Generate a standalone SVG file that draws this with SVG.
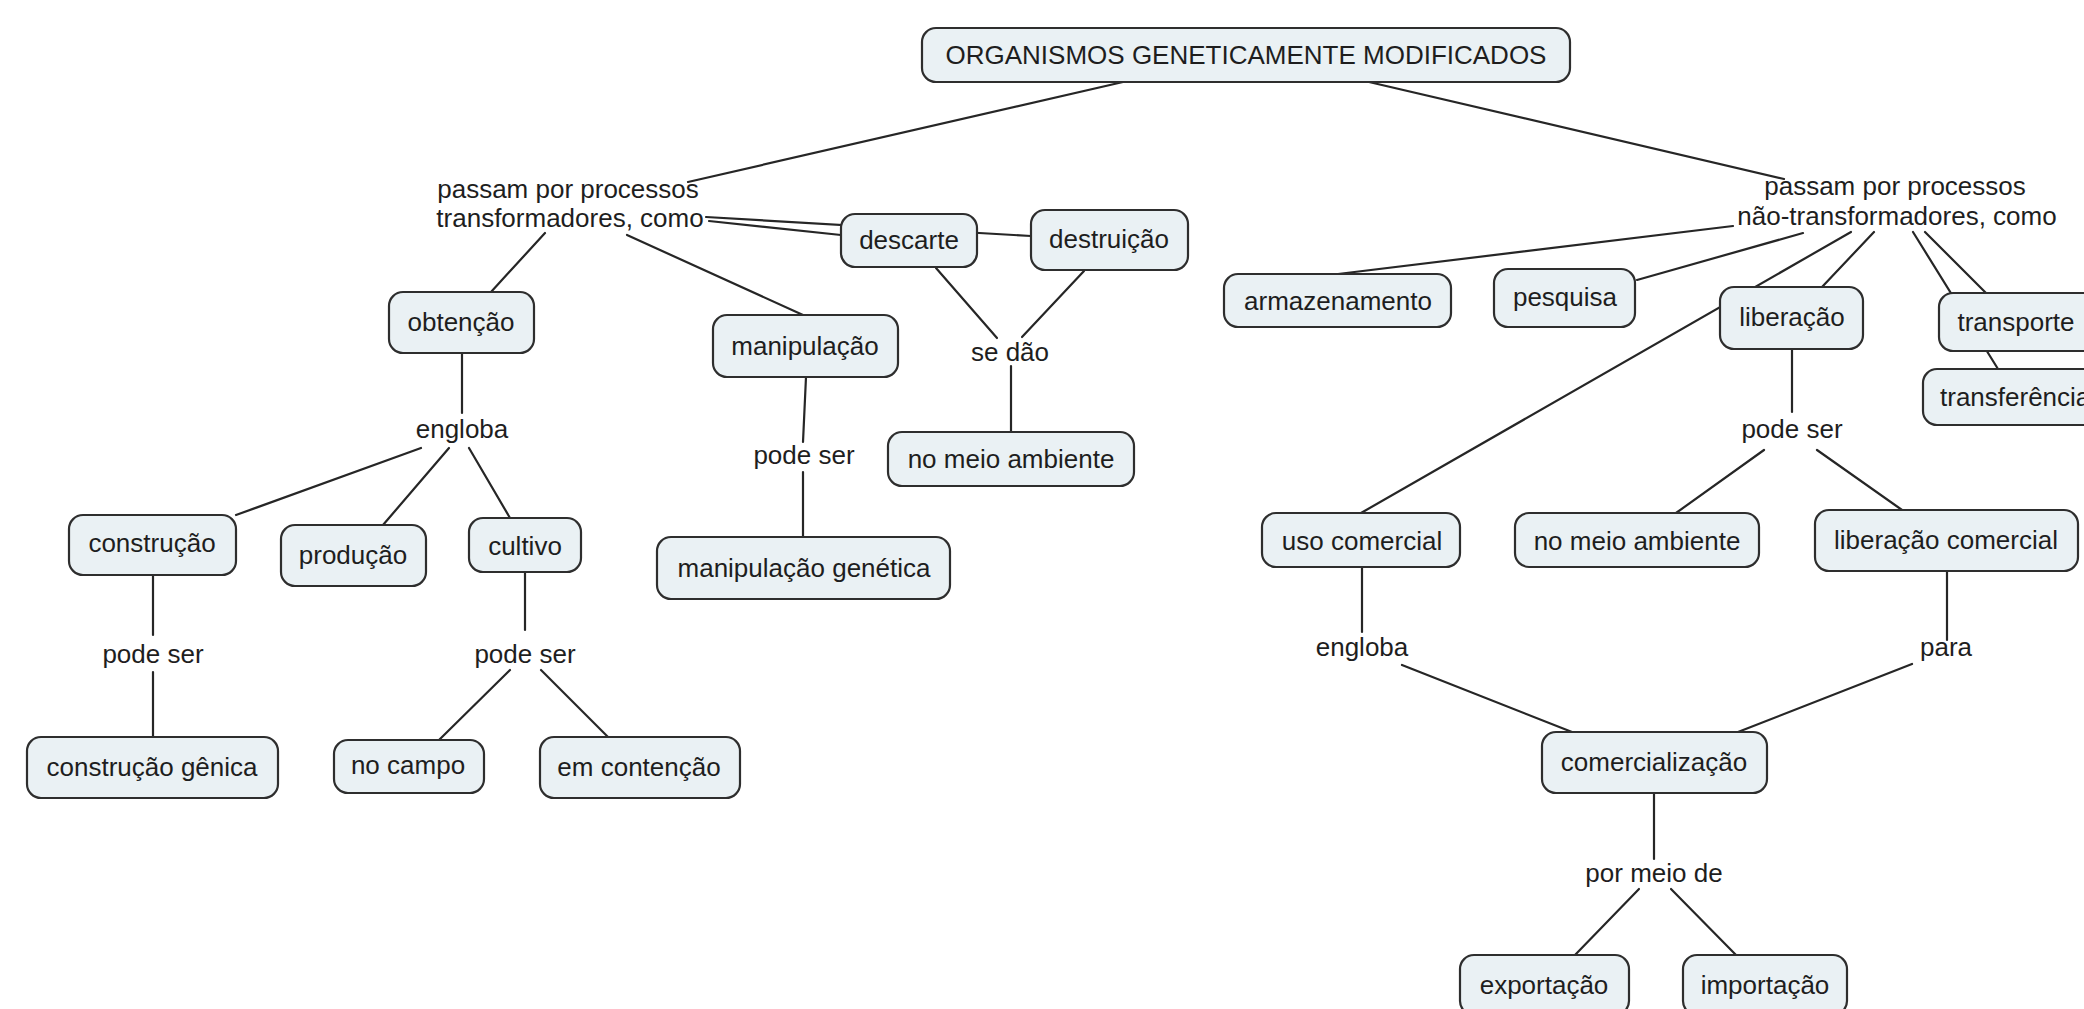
<svg xmlns="http://www.w3.org/2000/svg" width="2084" height="1009" viewBox="0 0 2084 1009">
<style>
.n rect{fill:#eaf1f4;stroke:#2e2e2e;stroke-width:2.2}
text{font-family:"Liberation Sans",Arial,sans-serif;font-size:26px;fill:#1e1e1e;text-anchor:middle}
.c line{stroke:#262626;stroke-width:2.2;stroke-linecap:round}
</style>
<rect width="2084" height="1009" fill="#ffffff"/>
<g class="c" id="connectors">
<line x1="1123" y1="82" x2="688" y2="182"/>
<line x1="1369" y1="82" x2="1784" y2="179"/>
<line x1="706" y1="217" x2="1031" y2="236"/>
<line x1="709" y1="221" x2="841" y2="235"/>
<line x1="545" y1="233" x2="491" y2="292"/>
<line x1="627" y1="235" x2="803" y2="315"/>
<line x1="936" y1="268" x2="997" y2="338"/>
<line x1="1084" y1="271" x2="1022" y2="337"/>
<line x1="1011" y1="366" x2="1011" y2="432"/>
<line x1="462" y1="353" x2="462" y2="413"/>
<line x1="421" y1="448" x2="236" y2="515"/>
<line x1="449" y1="448" x2="383" y2="525"/>
<line x1="469" y1="448" x2="510" y2="518"/>
<line x1="806" y1="377" x2="803" y2="442"/>
<line x1="803" y1="472" x2="803" y2="537"/>
<line x1="153" y1="575" x2="153" y2="635"/>
<line x1="153" y1="672" x2="153" y2="737"/>
<line x1="525" y1="572" x2="525" y2="630"/>
<line x1="510" y1="670" x2="439" y2="740"/>
<line x1="541" y1="670" x2="608" y2="737"/>
<line x1="1733" y1="226" x2="1338" y2="274"/>
<line x1="1803" y1="233" x2="1637" y2="280"/>
<line x1="1851" y1="232" x2="1361" y2="513"/>
<line x1="1874" y1="232" x2="1822" y2="287"/>
<line x1="1913" y1="232" x2="1998" y2="369"/>
<line x1="1925" y1="232" x2="1986" y2="293"/>
<line x1="1792" y1="349" x2="1792" y2="412"/>
<line x1="1764" y1="450" x2="1676" y2="513"/>
<line x1="1817" y1="450" x2="1902" y2="510"/>
<line x1="1362" y1="567" x2="1362" y2="632"/>
<line x1="1402" y1="665" x2="1572" y2="732"/>
<line x1="1947" y1="571" x2="1947" y2="640"/>
<line x1="1912" y1="664" x2="1738" y2="732"/>
<line x1="1654" y1="793" x2="1654" y2="859"/>
<line x1="1639" y1="889" x2="1575" y2="955"/>
<line x1="1671" y1="889" x2="1736" y2="955"/>
</g>
<g class="n" id="n-root"><rect x="922" y="28" width="648" height="54" rx="14"/><text x="1246" y="64">ORGANISMOS GENETICAMENTE MODIFICADOS</text></g>
<g id="l-transf"><text x="568" y="198">passam por processos</text><text x="570" y="227">transformadores, como</text></g>
<g id="l-naotransf"><text x="1895" y="195">passam por processos</text><text x="1897" y="225">não-transformadores, como</text></g>
<g class="n" id="n-descarte"><rect x="841" y="214" width="136" height="53" rx="14"/><text x="909" y="249">descarte</text></g>
<g class="n" id="n-destruicao"><rect x="1031" y="210" width="157" height="60" rx="14"/><text x="1109" y="248">destruição</text></g>
<g class="n" id="n-obtencao"><rect x="389" y="292" width="145" height="61" rx="14"/><text x="461" y="331">obtenção</text></g>
<g class="n" id="n-manipulacao"><rect x="713" y="315" width="185" height="62" rx="14"/><text x="805" y="355">manipulação</text></g>
<g id="l-sedao"><text x="1010" y="361">se dão</text></g>
<g class="n" id="n-meio1"><rect x="888" y="432" width="246" height="54" rx="14"/><text x="1011" y="468">no meio ambiente</text></g>
<g id="l-engloba1"><text x="462" y="438">engloba</text></g>
<g id="l-podeser-manip"><text x="804" y="464">pode ser</text></g>
<g class="n" id="n-construcao"><rect x="69" y="515" width="167" height="60" rx="14"/><text x="152" y="552">construção</text></g>
<g class="n" id="n-producao"><rect x="281" y="525" width="145" height="61" rx="14"/><text x="353" y="564">produção</text></g>
<g class="n" id="n-cultivo"><rect x="469" y="518" width="112" height="54" rx="14"/><text x="525" y="555">cultivo</text></g>
<g class="n" id="n-manipgen"><rect x="657" y="537" width="293" height="62" rx="14"/><text x="804" y="577">manipulação genética</text></g>
<g id="l-podeser-constr"><text x="153" y="663">pode ser</text></g>
<g id="l-podeser-cult"><text x="525" y="663">pode ser</text></g>
<g class="n" id="n-constrgen"><rect x="27" y="737" width="251" height="61" rx="14"/><text x="152" y="776">construção gênica</text></g>
<g class="n" id="n-campo"><rect x="334" y="740" width="150" height="53" rx="14"/><text x="408" y="774">no campo</text></g>
<g class="n" id="n-contencao"><rect x="540" y="737" width="200" height="61" rx="14"/><text x="639" y="776">em contenção</text></g>
<g class="n" id="n-armaz"><rect x="1224" y="274" width="227" height="53" rx="14"/><text x="1338" y="310">armazenamento</text></g>
<g class="n" id="n-pesquisa"><rect x="1494" y="269" width="141" height="58" rx="14"/><text x="1565" y="306">pesquisa</text></g>
<g class="n" id="n-liberacao"><rect x="1720" y="287" width="143" height="62" rx="14"/><text x="1792" y="326">liberação</text></g>
<g class="n" id="n-transporte"><rect x="1939" y="293" width="170" height="58" rx="14"/><text x="2016" y="331">transporte</text></g>
<g class="n" id="n-transferencia"><rect x="1923" y="369" width="200" height="56" rx="14"/><text x="1940" y="406" style="text-anchor:start">transferência</text></g>
<g id="l-podeser-lib"><text x="1792" y="438">pode ser</text></g>
<g class="n" id="n-usocom"><rect x="1262" y="513" width="198" height="54" rx="14"/><text x="1362" y="550">uso comercial</text></g>
<g class="n" id="n-meio2"><rect x="1515" y="513" width="244" height="54" rx="14"/><text x="1637" y="550">no meio ambiente</text></g>
<g class="n" id="n-libcom"><rect x="1815" y="510" width="263" height="61" rx="14"/><text x="1946" y="549">liberação comercial</text></g>
<g id="l-engloba2"><text x="1362" y="656">engloba</text></g>
<g id="l-para"><text x="1946" y="656">para</text></g>
<g class="n" id="n-comerc"><rect x="1542" y="732" width="225" height="61" rx="14"/><text x="1654" y="771">comercialização</text></g>
<g id="l-pormeio"><text x="1654" y="882">por meio de</text></g>
<g class="n" id="n-export"><rect x="1460" y="955" width="169" height="60" rx="14"/><text x="1544" y="994">exportação</text></g>
<g class="n" id="n-import"><rect x="1683" y="955" width="164" height="60" rx="14"/><text x="1765" y="994">importação</text></g>
</svg>
